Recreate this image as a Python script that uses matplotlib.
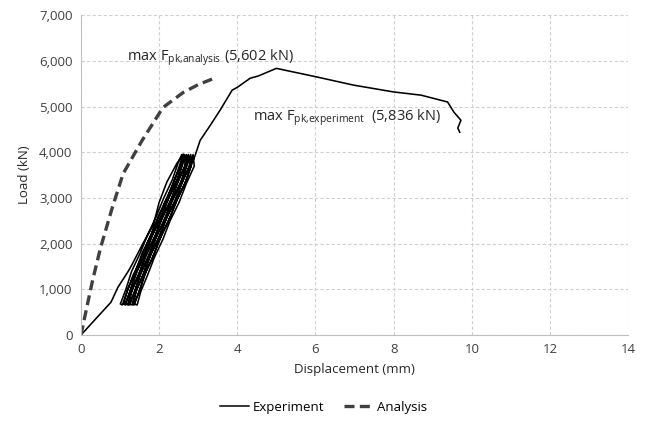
import matplotlib
matplotlib.use("Agg")
import matplotlib.pyplot as plt
from matplotlib.ticker import FuncFormatter
from matplotlib.lines import Line2D

plt.rcParams["font.family"] = ["Open Sans", "DejaVu Sans"]

# ── Experiment: first loading branch ─────────────────────────────────────────
first_x = [0.0, 0.77, 0.95, 1.20, 1.30, 1.59, 1.85, 2.00, 2.20, 2.45, 2.62]
first_y = [0, 720, 1050, 1380, 1530, 2010, 2400, 2900, 3350, 3750, 3960]
first_unload_x = [2.52, 2.36, 2.14, 1.95, 1.74, 1.55, 1.33, 1.18, 1.06]

# load levels used for the cyclic branches
levels_up = [680, 1000, 1400, 1800, 2200, 2600, 3000, 3400, 3750, 3950]
levels_down = [3700, 3300, 2900, 2500, 2100, 1700, 1300, 950, 660]

cyc_load = [
    [1.01, 1.15, 1.30, 1.52, 1.71, 1.93, 2.12, 2.34, 2.48, 2.58],
    [1.09, 1.20, 1.40, 1.57, 1.80, 1.98, 2.21, 2.39, 2.57, 2.65],
    [1.13, 1.28, 1.44, 1.65, 1.84, 2.06, 2.25, 2.47, 2.61, 2.70],
    [1.20, 1.31, 1.51, 1.68, 1.91, 2.09, 2.32, 2.50, 2.68, 2.75],
    [1.24, 1.39, 1.55, 1.76, 1.95, 2.17, 2.36, 2.58, 2.72, 2.81],
    [1.32, 1.43, 1.63, 1.80, 2.03, 2.21, 2.44, 2.62, 2.80, 2.87],
]
cyc_unload = [
    [2.58, 2.41, 2.19, 2.00, 1.78, 1.60, 1.38, 1.25, 1.14],
    [2.67, 2.46, 2.28, 2.05, 1.87, 1.65, 1.47, 1.30, 1.21],
    [2.71, 2.54, 2.32, 2.13, 1.91, 1.73, 1.51, 1.38, 1.25],
    [2.78, 2.57, 2.39, 2.16, 1.98, 1.76, 1.58, 1.41, 1.32],
    [2.82, 2.65, 2.43, 2.24, 2.02, 1.84, 1.62, 1.49, 1.36],
    [2.90, 2.69, 2.51, 2.28, 2.10, 1.88, 1.70, 1.53, 1.44],
]
last_load_x = [1.36, 1.51, 1.67, 1.88, 2.07, 2.29, 2.48, 2.70, 2.84, 2.93]

# ── Experiment: post-cycle envelope ──────────────────────────────────────────
env_x = [3.05, 3.31, 3.56, 3.87, 4.00, 4.33, 4.54, 5.00, 6.05, 6.97, 8.00, 8.70, 9.38, 9.54, 9.72, 9.64, 9.69]
env_y = [4260, 4590, 4920, 5360, 5420, 5620, 5670, 5836, 5645, 5470, 5320, 5250, 5100, 4880, 4700, 4530, 4440]

# ── Analysis ─────────────────────────────────────────────────────────────────
ana_x = [0.0, 0.10, 0.30, 0.50, 0.80, 1.08, 1.56, 2.10, 2.62, 3.00, 3.36]
ana_y = [0, 400, 1200, 1900, 2780, 3530, 4250, 4980, 5310, 5480, 5602]

# assemble experiment path
exp_x = list(first_x) + list(first_unload_x)
exp_y = list(first_y) + list(levels_down)
for up, down in zip(cyc_load, cyc_unload):
    exp_x += up + down
    exp_y += levels_up + levels_down
exp_x += last_load_x + env_x
exp_y += levels_up + env_y

fig = plt.figure(figsize=(6.47, 4.21), dpi=100)
ax = fig.add_axes([0.125, 0.204, 0.846, 0.76])

ax.plot(exp_x, exp_y, color="black", linewidth=1.15, label="Experiment")
ax.plot(ana_x, ana_y, color="#404040", linewidth=2.4, linestyle=(0, (3, 1.6)), label="Analysis")

ax.set_xlim(0, 14)
ax.set_ylim(0, 7000)
ax.set_xticks(range(0, 15, 2))
ax.set_yticks(range(0, 7001, 1000))
ax.yaxis.set_major_formatter(FuncFormatter(lambda v, p: f"{int(v):,}"))
ax.tick_params(length=0, labelsize=9.5, colors="#404040", pad=6)
ax.grid(True, color="#d0d0d0", linestyle=(0, (3, 2)), linewidth=0.8)
ax.set_axisbelow(True)
for s in ("top", "right"):
    ax.spines[s].set_visible(False)
for s in ("left", "bottom"):
    ax.spines[s].set_color("#bfbfbf")

ax.set_xlabel("Displacement (mm)", fontsize=9.5, color="#262626", labelpad=5)
ax.set_ylabel("Load (kN)", fontsize=9.5, color="#262626", labelpad=6)

ax.text(1.18, 6080, r"max F$_{\mathregular{pk{,}analysis}}$ (5,602 kN)", fontsize=10.5,
        color="#262626", va="center")
ax.text(4.41, 4770, r"max F$_{\mathregular{pk{,}experiment}}$  (5,836 kN)", fontsize=10.5,
        color="#262626", va="center")

handles = [Line2D([], [], color="black", linewidth=1.1),
           Line2D([], [], color="#404040", linewidth=2.4, linestyle=(0, (3, 1.6)))]
fig.legend(handles, ["Experiment", "Analysis"], loc="center", bbox_to_anchor=(0.5, 0.033),
           ncol=2, frameon=False, fontsize=9.5, handlelength=2.2, handletextpad=0.3,
           columnspacing=1.5)

fig.savefig("out.png", dpi=100)
